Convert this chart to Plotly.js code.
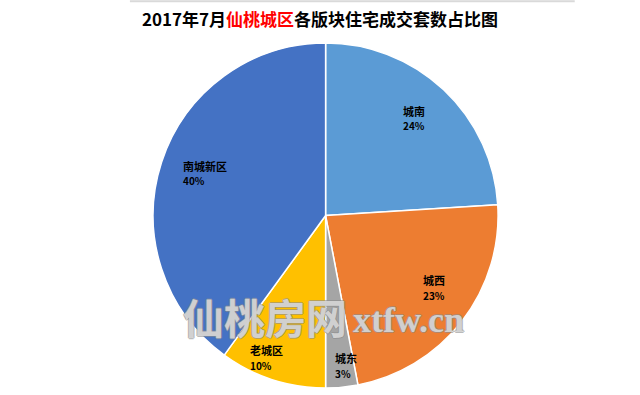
<!DOCTYPE html>
<html>
<head>
<meta charset="utf-8">
<script src="https://cdn.plot.ly/plotly-3.0.1.min.js"></script>
<style>html,body{margin:0;padding:0;background:#fff;}#chart{width:640px;height:395px;}</style>
</head>
<body>
<div id="chart"></div>
<script>
const districts = ["城南", "城西", "城东", "老城区", "南城新区"];
const shares = [24, 23, 3, 10, 40];
const colors = ["#5B9BD5", "#ED7D31", "#A5A5A5", "#FFC000", "#4472C4"];
// label placement (Excel "best fit" style): fraction of radius and angular nudge in degrees
const labelRadius = [0.76, 0.748, 0.874, 0.893, 0.745];
const labelShift = [-1.6, -4, -2, 5, 1.5];

const W = 640, H = 395;
const dom = {x: [0.2375, 0.78], y: [0.0177, 0.891]};

const trace = {
  type: "pie",
  labels: districts,
  values: shares,
  sort: false,
  direction: "clockwise",
  rotation: 0,
  marker: {colors: colors, line: {color: "#ffffff", width: 1.5}},
  textinfo: "none",
  hoverinfo: "label+percent",
  showlegend: false,
  domain: dom
};

const total = shares.reduce((a, b) => a + b, 0);
const cxPx = (dom.x[0] + dom.x[1]) / 2 * W;
const cyPx = (dom.y[0] + dom.y[1]) / 2 * H;
const Rpx = Math.min((dom.x[1] - dom.x[0]) * W, (dom.y[1] - dom.y[0]) * H) / 2;
const nameSize = 11, pctSize = 10;
let cum = 0;
const labelAnns = [];
districts.forEach((name, i) => {
  const mid = (cum + shares[i] / 2) / total * 360 + labelShift[i];
  cum += shares[i];
  const a = mid * Math.PI / 180;
  const r = labelRadius[i] * Rpx;
  const px = cxPx + r * Math.sin(a);
  const py = cyPx + r * Math.cos(a);
  const leftPx = px - name.length * nameSize / 2;
  const base = {xref: "paper", yref: "paper", x: leftPx / W, y: py / H,
                xanchor: "left", yanchor: "middle", showarrow: false, borderpad: 0};
  labelAnns.push(Object.assign({}, base, {text: name, yshift: 7,
    font: {family: "Noto Sans CJK SC", size: nameSize, color: "#000000", weight: "bold"}}));
  labelAnns.push(Object.assign({}, base, {text: Math.round(shares[i] / total * 100) + "%", yshift: -8,
    font: {family: "Noto Sans CJK SC", size: pctSize, color: "#000000", weight: "bold"}}));
});

const outline = "1px 0 0 #8c8c8c, -1px 0 0 #8c8c8c, 0 1px 0 #8c8c8c, 0 -1px 0 #8c8c8c";
const layout = {
  width: W, height: H,
  margin: {l: 0, r: 0, t: 0, b: 0},
  paper_bgcolor: "#ffffff",
  title: {
    text: "<b>2017年7月<span style=\"color:#FF0000\">仙桃城区</span>各版块住宅成交套数占比图</b>",
    font: {family: "Noto Sans CJK SC", size: 17, color: "#000000"},
    x: 0.5, xanchor: "center", y: 0.95, yanchor: "middle"
  },
  shapes: [{type: "line", xref: "paper", yref: "paper", x0: 0.203, x1: 0.898, y0: 0.997, y1: 0.997,
            line: {color: "#D9D9D9", width: 2}}],
  annotations: labelAnns.concat([
    {text: "<b>仙桃房网</b>", xref: "paper", yref: "paper", x: 0.414, y: 0.2, xanchor: "center", yanchor: "middle",
     showarrow: false, borderpad: 0, font: {family: "Noto Sans CJK SC", size: 41, color: "rgba(255,255,255,0.6)", shadow: outline}},
    {text: "<b>xtfw.cn</b>", xref: "paper", yref: "paper", x: 0.638, y: 0.19, xanchor: "center", yanchor: "middle",
     showarrow: false, borderpad: 0, font: {family: "Liberation Serif", size: 36, color: "rgba(255,255,255,0.6)", shadow: outline}}
  ])
};

Plotly.newPlot("chart", [trace], layout, {displayModeBar: false, staticPlot: true});
</script>
</body>
</html>
